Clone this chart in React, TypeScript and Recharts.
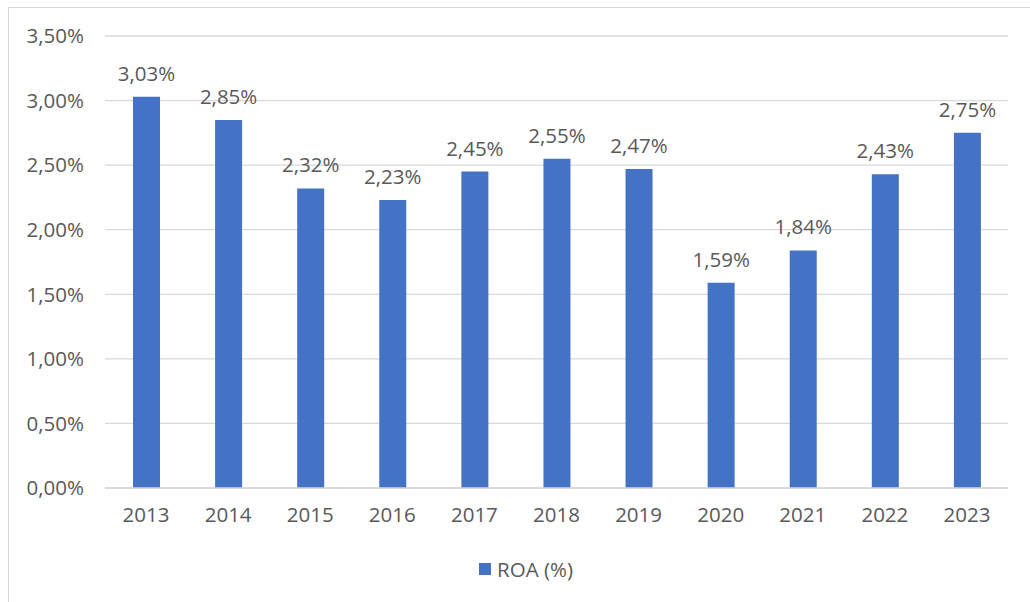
import { BarChart, Bar, XAxis, YAxis, CartesianGrid, Legend, LabelList } from 'recharts';

const years = ['2013', '2014', '2015', '2016', '2017', '2018', '2019', '2020', '2021', '2022', '2023'];
const roa = [3.03, 2.85, 2.32, 2.23, 2.45, 2.55, 2.47, 1.59, 1.84, 2.43, 2.75];
const yTicks = [0, 0.5, 1, 1.5, 2, 2.5, 3, 3.5];

const data = years.map((year, i) => ({ year, roa: roa[i] }));

const FONT = '"Open Sans", sans-serif';
const TEXT = '#595959';
const BLUE = '#4472C4';
const FS = 20.5;

const fmt = (v: number) => v.toFixed(2).replace('.', ',') + '%';

const LegendContent = () => (
  <div style={{ height: 26, paddingLeft: 36, display: 'flex', alignItems: 'center', justifyContent: 'center', fontFamily: FONT, fontSize: FS, color: TEXT }}>
    <span style={{ width: 12, height: 12, background: BLUE, display: 'inline-block', marginRight: 6 }} />
    <span>ROA (%)</span>
  </div>
);

export default function App() {
  return (
    <div style={{ position: 'fixed', left: 0, top: 0, width: 1030, height: 602, overflow: 'hidden', background: '#fff' }}>
      <div style={{ position: 'absolute', left: 8, top: 7, width: 1040, height: 620, borderLeft: '1.5px solid #d6d6d6', borderTop: '1.5px solid #d6d6d6' }} />
      <div style={{ position: 'absolute', left: 0, top: 0 }}>
        <BarChart width={1030} height={602} data={data} margin={{ top: 36, right: 22, left: 8, bottom: 20 }}>
          <CartesianGrid vertical={false} stroke="#d9d9d9" strokeWidth={1.3} />
          <XAxis dataKey="year" height={68} tickSize={0} tickMargin={19} axisLine={{ stroke: '#d9d9d9', strokeWidth: 1.3 }}
            tick={{ fontFamily: FONT, fontSize: FS, fill: TEXT }} />
          <YAxis width={97} domain={[0, 3.5]} ticks={yTicks} tickFormatter={fmt} tickSize={0} tickMargin={21}
            axisLine={false} tick={{ fontFamily: FONT, fontSize: FS, fill: TEXT }} interval={0} />
          <Legend verticalAlign="bottom" content={<LegendContent />} />
          <Bar dataKey="roa" fill={BLUE} barSize={27} isAnimationActive={false}>
            <LabelList dataKey="roa" position="top" offset={16} formatter={(v: any) => fmt(Number(v))}
              style={{ fontFamily: FONT, fontSize: FS, fill: TEXT }} />
          </Bar>
        </BarChart>
      </div>
    </div>
  );
}
